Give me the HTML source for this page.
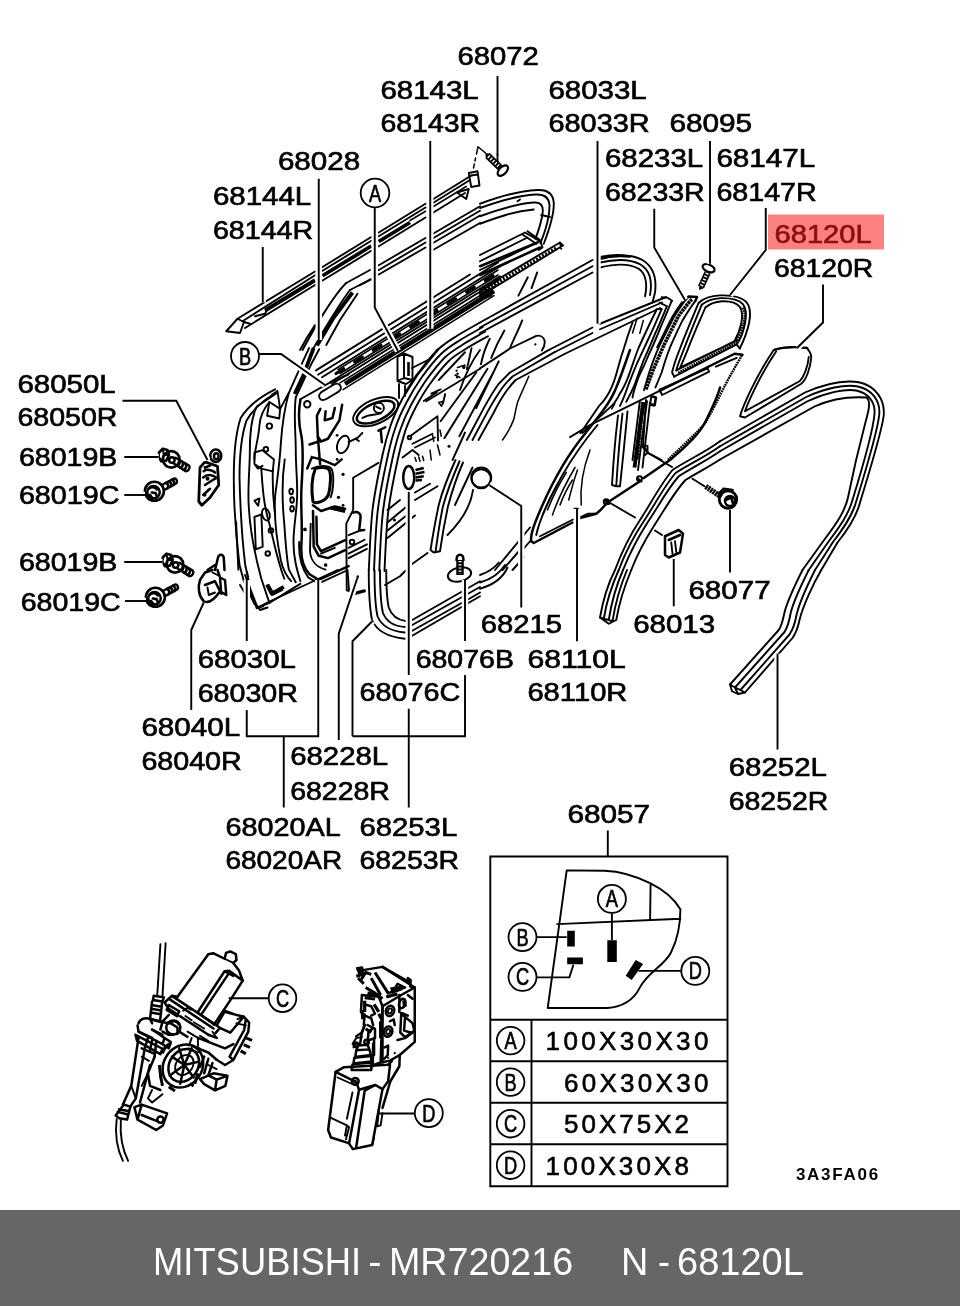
<!DOCTYPE html>
<html><head><meta charset="utf-8"><title>MITSUBISHI - MR720216 N - 68120L</title>
<style>
html,body{margin:0;padding:0;background:#fff;}
body{width:960px;height:1306px;overflow:hidden;position:relative;font-family:"Liberation Sans",sans-serif;}
svg{position:absolute;left:0;top:0;display:block;will-change:transform}
.l{font-family:"Liberation Sans",sans-serif;font-size:25.5px;fill:#000;stroke:#000;stroke-width:.65px}
.t{font-family:"Liberation Sans",sans-serif;font-size:26px;fill:#000;stroke:#000;stroke-width:.6px}
.c{font-family:"Liberation Sans",sans-serif;font-size:24px;fill:#000;stroke:#000;stroke-width:.7px;text-anchor:middle}
.ld{fill:none;stroke:#000;stroke-width:1.9}
.a{fill:none;stroke:#000;stroke-width:1.9;stroke-linejoin:round;stroke-linecap:round}
.a2{fill:none;stroke:#000;stroke-width:2.5;stroke-linejoin:round;stroke-linecap:round}
.a3{fill:none;stroke:#000;stroke-width:3.8;stroke-linejoin:round;stroke-linecap:butt}
.a1{fill:none;stroke:#000;stroke-width:1.5;stroke-linejoin:round;stroke-linecap:round}
.f{fill:#000;stroke:none}
.w{fill:#fff;stroke:#000;stroke-width:1.5;stroke-linejoin:round}
.h{fill:none;stroke:#fff;stroke-width:6.5;stroke-linecap:butt}
g.z path, g.z circle, g.z ellipse{vector-effect:non-scaling-stroke}
#bar{will-change:transform;position:absolute;left:0;top:1210px;width:960px;height:96px;background:#666;}
#bar span{position:absolute;top:26.3px;font-size:39.6px;line-height:50px;color:#fff;white-space:nowrap;transform-origin:0 50%;}
</style></head><body>
<svg width="960" height="1306" viewBox="0 0 960 1306">
<g class="z" transform="translate(130,430) scale(0.125)">
<path class="a2" d="M232 180L262 150L300 160L312 200L290 245L250 250L228 215Z" style="stroke-width:2.6"/>
<circle cx="330" cy="235" r="66" class="a2" style="stroke-width:2.6"/>
<circle cx="335" cy="240" r="22" class="a2"/>
<path class="a2" d="M365 222L472 285M350 268L445 330M472 285C485 300 470 328 445 330" style="stroke-width:2.4"/>
<path class="a2" d="M392 238C405 255 395 280 378 286M418 254C431 271 421 296 404 302M444 270C457 287 447 312 430 318" style="stroke-width:2.6"/>
<path class="a" d="M262 150L270 200L312 200M270 200L250 250"/>
<circle cx="195" cy="490" r="76" class="a2" style="stroke-width:2.6"/>
<circle cx="188" cy="498" r="50" class="a2"/>
<path class="a2" d="M150 470C170 450 200 455 215 475M175 500L205 505L215 530M160 520L180 545" style="stroke-width:2.6"/>
<path class="a2" d="M255 440L352 388M275 480L372 425M352 388C372 385 382 410 372 425" style="stroke-width:2.4"/>
<path class="a2" d="M288 422C305 430 312 452 300 466M312 410C329 418 336 440 324 454M336 397C353 405 360 427 348 441" style="stroke-width:2.6"/>
<ellipse cx="686" cy="206" rx="44" ry="50" class="a2" style="stroke-width:2.6"/>
<ellipse cx="690" cy="210" rx="18" ry="24" class="a2"/>
<path class="a2" d="M560 300L600 255L700 290L710 440L640 540L575 602L550 572Z" style="stroke-width:2.8"/>
<path class="a2" d="M590 330C610 310 660 320 680 340M585 380C620 350 660 360 690 380M600 440C630 420 660 400 690 385M585 520L640 470M600 300L640 285"/>
<circle cx="620" cy="390" r="16" class="f"/><circle cx="598" cy="520" r="14" class="f"/><circle cx="600" cy="300" r="10" class="f"/><circle cx="625" cy="480" r="9" class="f"/>
<g transform="translate(30.0,840)"><path class="a2" d="M232 180L262 150L300 160L312 200L290 245L250 250L228 215Z" style="stroke-width:2.6"/>
<circle cx="330" cy="235" r="66" class="a2" style="stroke-width:2.6"/>
<circle cx="335" cy="240" r="22" class="a2"/>
<path class="a2" d="M365 222L472 285M350 268L445 330M472 285C485 300 470 328 445 330" style="stroke-width:2.4"/>
<path class="a2" d="M392 238C405 255 395 280 378 286M418 254C431 271 421 296 404 302M444 270C457 287 447 312 430 318" style="stroke-width:2.6"/>
<path class="a" d="M262 150L270 200L312 200M270 200L250 250"/></g>
<g transform="translate(8,848)"><circle cx="195" cy="490" r="76" class="a2" style="stroke-width:2.6"/>
<circle cx="188" cy="498" r="50" class="a2"/>
<path class="a2" d="M150 470C170 450 200 455 215 475M175 500L205 505L215 530M160 520L180 545" style="stroke-width:2.6"/>
<path class="a2" d="M255 440L352 388M275 480L372 425M352 388C372 385 382 410 372 425" style="stroke-width:2.4"/>
<path class="a2" d="M288 422C305 430 312 452 300 466M312 410C329 418 336 440 324 454M336 397C353 405 360 427 348 441" style="stroke-width:2.6"/></g>
</g>
<g class="z" transform="translate(220,340) scale(0.2296)">
<!-- left outer edges -->
<path class="a" d="M240 215C180 245 120 290 90 340C70 400 60 500 60 600C60 720 70 860 85 980L105 1055"/>
<path class="a" d="M232 238C185 265 138 310 115 352C95 410 85 500 85 600C88 720 95 860 110 980L125 1050"/>
<path class="a" d="M70 790L80 1000M118 1010L130 1090L160 1168L188 1160M125 1095L150 1150"/>
<path class="a" d="M250 230L160 290C140 330 130 400 130 480C130 560 120 640 125 720C130 820 150 930 180 1040L215 1145L350 1062"/>
<path class="a" d="M160 1168L215 1145M215 270C190 300 175 330 172 370C168 430 150 480 150 520"/>
<!-- pillar features -->
<path class="a" d="M215 270L262 300L258 342L205 330ZM225 240L250 222L262 300M150 490L185 480L235 520L230 572L180 560L150 540ZM150 540L165 560L185 548M150 700L172 690L166 722ZM150 770L180 760L186 900L156 912Z"/>
<circle cx="215" cy="375" r="12" class="a"/><circle cx="200" cy="476" r="10" class="a"/><ellipse cx="200" cy="760" rx="16" ry="27" class="a" transform="rotate(-15 200 760)"/><circle cx="222" cy="830" r="10" class="a"/><circle cx="208" cy="930" r="10" class="a"/>
<ellipse cx="310" cy="660" rx="8" ry="12" class="a"/><ellipse cx="314" cy="697" rx="8" ry="12" class="a"/><ellipse cx="314" cy="735" rx="8" ry="12" class="a"/>
<path class="a3" d="M205 1065L225 1105L278 1075"/>
<!-- vertical wavy -->
<path class="a" d="M300 230C280 300 270 380 265 450C260 540 250 600 240 680C235 760 245 860 265 960C275 1000 290 1030 310 1050"/>
<path class="a" d="M330 250C320 330 330 400 330 480C330 560 340 640 335 700C330 780 320 820 320 880C320 950 335 1000 350 1050"/>
<path class="a2" d="M350 260C340 320 345 380 355 420C365 480 360 560 355 640C350 720 360 800 355 880C350 940 360 990 390 1020L430 1045L560 985"/>
<path class="a" d="M282 520C270 600 270 700 280 800C285 880 290 950 300 1000L330 1055M180 560C185 640 190 720 215 800C235 880 250 960 280 1040"/>
<path class="a" d="M230 572C228 640 232 700 240 760M345 880C342 930 350 985 385 1035L430 1060L550 1005"/>
<!-- top frame part -->
<path class="a" d="M350 258L470 190L560 150M262 300L300 230M300 230L360 95L388 35M330 250L400 100L432 40"/>
<path class="a3" d="M325 235L365 150L385 95L408 35"/>
<path class="a" d="M440 228C430 238 428 250 438 258C446 264 455 262 465 256L515 226C528 218 530 205 522 196C515 188 502 190 492 196Z"/>
<circle cx="380" cy="280" r="14" class="a"/>
<path class="a2" d="M437 300L422 330L426 420L440 442M440 442L470 430L520 350L532 282M460 310L456 350L490 340L500 296"/>
<path class="a2" d="M426 420L436 540M436 440L390 455M400 510L440 520L500 545L530 520M380 560L400 510"/>
<ellipse cx="536" cy="455" rx="24" ry="40" class="a" transform="rotate(22 536 455)"/>
<path class="a" d="M560 445L600 425L620 405M590 430L605 440"/>
<circle cx="510" cy="415" r="6" class="f"/><circle cx="510" cy="520" r="6" class="f"/><circle cx="536" cy="585" r="7" class="f"/><circle cx="516" cy="685" r="7" class="f"/><circle cx="536" cy="720" r="6" class="f"/><circle cx="370" cy="825" r="8" class="f"/><circle cx="460" cy="980" r="8" class="f"/><circle cx="600" cy="1030" r="5" class="f"/>
<circle cx="575" cy="880" r="10" class="a"/>
<!-- openings -->
<path class="a2" d="M415 560C440 552 465 555 475 565C485 580 482 640 472 675C460 700 425 715 405 705C398 660 400 600 415 560Z" style="stroke-width:3"/>
<path class="a" d="M400 560C430 545 470 545 485 560C498 580 495 650 482 685"/>
<path class="a2" d="M405 720L440 745L500 725L545 735M420 770L422 890L440 920L545 872M405 745L408 900L430 940L470 950L545 915" />
<path class="a3" d="M480 730L545 745"/>
<path class="a" d="M440 930L500 905M395 800L392 920C395 960 420 990 460 1000"/>
<!-- handle -->
<ellipse cx="678" cy="312" rx="105" ry="52" class="a" transform="rotate(-24 678 312)"/>
<ellipse cx="678" cy="314" rx="88" ry="38" class="a2" transform="rotate(-24 678 314)"/>
<circle cx="692" cy="296" r="22" class="a"/><path class="a" d="M620 340C650 320 670 330 700 320M680 290L700 300"/>
<path class="a2" d="M700 390L705 445M720 380L690 395"/>
<!-- trim piece 68228 -->
<path class="a" d="M690 535L580 600L580 740L550 800L552 1090L585 1100M600 1035L585 1100L630 1090"/>
<path class="a2" d="M580 752C600 745 615 755 612 775L606 830L628 828"/>
<path class="a" d="M560 930L640 890M560 950L640 910M560 905L630 870M560 850L610 830"/>
</g>
<g class="z" transform="translate(0,0) scale(1)">
<!-- belt rail band (real coords) -->
<path class="a3" style="stroke-width:4.6" d="M345 383.9L494 291.0"/>
<path class="a1" d="M343 389.7L494 295.6M340 382.8L497 285.0"/>
<path class="a" d="M332 384.0L500 279.3M330 382.2L500 276.3M322 377.2L500 266.3M318 374.7L498 262.5M316 370.4L470 274.5"/>
<path class="a2" style="stroke-width:3.2" stroke-dasharray="9 13" d="M336 373.5L498 272.5"/>
<path class="a1" d="M340 373.5L498 275.0M338 369.7L498 270.0"/>
<path class="a" d="M397.5 357L404 353.5L412.5 357V380L406 384L397.5 381ZM404 353.5V378M404 378L412.5 380M404 378L397.5 381"/>
<path class="a3" style="stroke-width:2.6" d="M408.5 362V376"/>
<path class="a" d="M399 384V398M405 386V396M412 368L428 360"/>
</g>
<g class="z" transform="translate(0,0) scale(1)">
<!-- screws in real coords -->
<path d="M487.5 155.5L500 167.5" fill="none" stroke="#000" stroke-width="6.6"/>
<path d="M487.5 155.5L500 167.5" fill="none" stroke="#fff" stroke-width="3.4" stroke-dasharray="1.3 1.9" stroke-dashoffset="-1.2"/>
<ellipse cx="502.8" cy="170.6" rx="6.4" ry="3.6" transform="rotate(-45 502.8 170.6)" fill="#fff" stroke="#000" stroke-width="2.2"/>
<path class="f" d="M485.2 153.2L490 153.5L486 158Z"/>
<path class="a1" d="M485.5 153L478 146.7L476.5 154M475.6 158L475 161M474.3 164L473.5 168"/>
<path d="M701 287L707.6 272.5" fill="none" stroke="#000" stroke-width="6.6"/>
<path d="M701 287L707.6 272.5" fill="none" stroke="#fff" stroke-width="3.4" stroke-dasharray="1.3 1.9" stroke-dashoffset="-1.2"/>
<ellipse cx="708.6" cy="268.2" rx="6.4" ry="3.6" transform="rotate(24 708.6 268.2)" fill="#fff" stroke="#000" stroke-width="2.2"/>
<path class="f" d="M699 290L703.5 288.5L699.5 285Z"/>
<!-- lower clip 68076B -->
<ellipse cx="459.5" cy="574.5" rx="11.8" ry="7" transform="rotate(-12 459.5 574.5)" fill="#fff" stroke="#000" stroke-width="2"/>
<path d="M460 560V575" fill="none" stroke="#000" stroke-width="7.5"/>
<path d="M460 561V574" fill="none" stroke="#fff" stroke-width="3" stroke-dasharray="1.2 2"/>
<path class="a2" d="M456.5 560C456.5 553 463.5 553 463.5 560"/>
</g>
<g class="z" transform="translate(100,940) scale(0.20833)">
<!-- cables -->
<path class="a" d="M290 20L275 262M315 15L300 268"/>
<path class="a2" d="M258 268L306 275L300 295L254 288ZM250 295L240 380L288 392L298 300M248 312L296 320M246 330L294 338M244 348L292 356"/>
<!-- motor cylinder -->
<path class="a2" d="M372 272L520 68L545 64L598 90L605 62L625 55L652 68L655 96L640 110L668 148L685 195L625 290L548 405"/>
<path class="a" d="M520 68L545 64M640 110L598 90"/>
<path class="a2" d="M468 348L598 150L640 172M490 352L615 165M468 348L548 405M598 150L620 148L685 195"/>
<!-- base plate -->
<path class="a2" d="M310 300L345 268L372 272M345 268L560 410L576 422L555 446M310 300L330 330L522 456M330 312L380 342L370 366L320 336Z"/>
<path class="a" d="M400 340L420 325L436 335M410 365L440 385M450 395L500 425M540 440L560 470"/>
<!-- right gearbox -->
<path class="a2" d="M598 345L690 368L716 396L712 440L640 576L600 600L560 575M640 576L622 560L692 432L700 380L690 368M600 340L640 355"/>
<path class="a3" d="M700 470L730 482M690 502L720 516M675 532L700 546" style="stroke-width:3"/>
<path class="a" d="M660 380L680 372M655 400L700 410"/>
<!-- gear -->
<ellipse cx="398" cy="605" rx="92" ry="108" class="a2" transform="rotate(35 398 605)"/>
<ellipse cx="402" cy="602" rx="68" ry="84" class="a2" transform="rotate(35 402 602)"/>
<ellipse cx="405" cy="600" rx="40" ry="52" class="a" transform="rotate(35 405 600)"/>
<path class="a2" d="M405 600L440 520M405 600L470 585M405 600L450 660M405 600L385 690M405 600L335 650M405 600L345 560M405 600L380 520"/>
<path class="a3" d="M290 650L300 700M330 705L360 725M430 690L450 700" style="stroke-width:3"/>
<!-- left body -->
<path class="a2" d="M185 400C190 380 215 370 240 378L250 400M180 410L185 440L300 500L310 470L250 430M170 455L300 522L290 548L178 484ZM300 500L330 520L340 490L310 470"/>
<circle cx="352" cy="420" r="34" class="a2"/><path class="a2" d="M330 400C345 385 370 388 378 405"/>
<path class="a2" d="M290 392L330 400M300 440L330 455L350 455"/>
<path class="a" d="M420 440L470 470L470 520M480 460L520 485M440 470L430 500"/>
<path class="a2" d="M470 520L520 540L560 575M500 560L480 610M520 570L500 640M540 590L520 650"/>
<!-- arm -->
<path class="a2" d="M185 470L150 700L110 790M215 520L172 760L145 800M240 600L192 780M262 560L230 640L240 700L290 720"/>
<path class="a" d="M200 560L235 580M250 720L230 760L250 780L300 740"/>
<!-- lower bracket -->
<path class="a2" d="M165 802L200 790L322 832L302 890L270 912L180 862ZM200 840L280 872M180 862L200 790"/>
<circle cx="290" cy="862" r="15" class="a2"/>
<!-- lower cable -->
<path class="a2" d="M75 842L115 790L146 800L130 862L92 856ZM85 825L135 838M92 812L140 822"/>
<path class="a" d="M80 860C70 940 80 1000 110 1060M100 865C95 940 105 1000 135 1060"/>
<!-- right foot -->
<path class="a2" d="M480 668L545 640L612 652L602 700L552 722L500 692ZM552 722L560 670L612 652M560 670L520 650"/>
<!-- extra density -->
<path class="a2" d="M335 285L545 425M240 378L300 392L330 360M300 392L290 430M250 430L300 455M185 440L250 470M470 470L600 520L640 500M520 455L560 470M560 410L600 340M575 422L625 445L690 368"/>
<path class="a3" d="M300 545C305 520 320 505 340 495M285 600L292 660M455 690L470 640" style="stroke-width:3"/>
<path class="a2" d="M230 470L215 520M250 480L240 530M270 490L262 560M200 520L260 545M340 400L372 420L372 450M380 440L420 465"/>
<path class="a" d="M425 520L470 540M440 505L480 522M520 600L560 620M150 700L172 760M230 640L200 700"/>
</g>
<g class="z" transform="translate(300,950) scale(0.1875)">
<!-- actuator box -->
<path class="a2" d="M190 650L150 960L165 1000L260 1030L282 1062L385 1040L440 742L402 720L315 745L300 705Z"/>
<path class="a2" d="M190 650L235 625L470 612L490 592M315 745L262 1030M345 750L300 1050M402 720L345 750M440 742L470 700L480 612"/>
<path class="a" d="M200 680L290 720M165 895L250 935L262 945L245 1010M250 935L240 990M280 760L250 900M385 1040L395 1000M420 860L412 940L430 935L440 870"/>
<circle cx="295" cy="700" r="18" class="a2"/><circle cx="295" cy="700" r="8" class="f"/>
<!-- rod boot -->
<path class="a2" d="M300 535L370 530L378 560L295 570ZM290 575L378 565L382 595L285 605ZM280 610L382 600L380 640L275 640ZM300 535L310 510L360 505L370 530"/>
<path class="a2" d="M320 505L330 440L345 400M360 505L365 440L385 420"/>
<path class="a" d="M280 500L300 470L330 465M285 520L300 500"/>
<circle cx="298" cy="505" r="12" class="a2"/><circle cx="355" cy="490" r="12" class="a2"/>
<!-- latch body -->
<path class="a2" d="M320 110L440 90L612 200L612 490L532 560L530 620L482 700L440 842"/>
<path class="a2" d="M330 240L325 330L345 345L340 400M330 240L420 250L440 300L430 600L400 610M440 300L540 240L612 200M430 600L480 590L532 560M390 500L388 620"/>
<path class="a2" d="M540 340L600 390L610 430L560 465L535 440ZM560 360L555 430L590 440"/>
<path class="a3" d="M300 100L330 95L335 130L300 140M310 150L340 180M325 160L350 120L380 130M350 200L400 230L440 260M380 150L430 240M400 120L470 230" style="stroke-width:3"/>
<path class="a2" d="M440 90L580 170L575 150L590 160L588 195L612 200M470 230L560 200M500 215L520 180L560 200"/>
<path class="f" d="M480 200L540 190L545 215L490 235Z"/>
<ellipse cx="480" cy="325" rx="22" ry="28" class="a2" transform="rotate(20 480 325)"/><ellipse cx="480" cy="325" rx="10" ry="14" class="a" transform="rotate(20 480 325)"/>
<ellipse cx="470" cy="435" rx="22" ry="28" class="a2" transform="rotate(20 470 435)"/><ellipse cx="470" cy="435" rx="10" ry="14" class="a" transform="rotate(20 470 435)"/>
<ellipse cx="545" cy="285" rx="16" ry="26" class="a2" transform="rotate(20 545 285)"/>
<path class="a2" d="M480 380L500 370L505 400M450 520L470 510L468 560L450 580M345 290L380 300L400 340L380 350M360 400L400 420L400 470L370 480"/>
<path class="a3" d="M330 320L335 370M345 255L400 262M420 340L440 380" style="stroke-width:3"/>
<circle cx="505" cy="550" r="6" class="f"/><circle cx="470" cy="575" r="6" class="f"/>
<!-- extra density -->
<path class="a3" d="M360 230L430 245M345 270L345 330M395 290L420 330M460 250L520 235M430 380L430 470M350 420L380 440" style="stroke-width:3.2"/>
<path class="a2" d="M440 300L440 600M530 240L530 330L575 350M575 240L600 260M520 480L560 470L600 440M335 345L380 365L390 400M300 460L330 440L345 400M395 470L395 560"/>
<path class="f" d="M545 270L565 262L570 300L550 310ZM300 100L320 92L330 125L312 135Z"/>
</g>
<g class="z" transform="translate(570,260) scale(0.20833)">
<!-- glass 68033 corner + rear edge lines -->
<path class="a" d="M440 178L470 182L490 196M430 205L465 222M415 236L440 236"/>
<path class="a" d="M488 196C470 240 450 290 440 310C420 360 395 420 380 450C360 500 340 540 330 560C315 600 305 630 300 660"/>
<path class="a" d="M465 222C445 270 425 320 410 350C390 400 365 455 350 490C335 530 320 570 310 600C295 635 282 660 270 680"/>
<path class="a" d="M440 236C420 280 400 330 385 360C362 410 338 460 320 500C305 535 292 570 280 600C268 635 255 670 240 700"/>
<path class="a" d="M415 240C385 300 355 365 330 420C310 470 295 520 280 560C268 590 255 620 240 640C228 665 215 685 200 700L60 830"/>
<path class="a" d="M300 300C285 340 270 385 260 420C248 455 238 490 230 520C222 550 212 585 200 610C185 645 165 675 140 700L50 832"/>
<path class="a1" d="M322 280L300 350M352 290L335 352M215 690L200 715"/>
<!-- division bar 68233 -->
<path class="a3" d="M585 188C560 215 535 250 520 270C490 330 465 380 450 410C430 455 412 500 400 525C385 565 372 600 365 622" stroke-dasharray="2.6 .6" style="stroke-width:3.6"/>
<path class="a" d="M555 190C530 225 510 255 498 275C470 330 445 380 430 410C410 455 392 505 380 540L355 625"/>
<path class="a" d="M602 196C580 225 555 265 540 290C515 340 495 385 480 420C462 465 450 505 440 540L410 612"/>
<path class="a2" d="M555 190L570 175L610 178L602 196"/>
<path class="a" d="M540 200C515 235 495 265 482 290C455 345 432 390 418 420"/>
<!-- quarter ws 68147 -->
<path class="a" d="M618 205C640 185 680 172 720 170C770 168 820 175 845 200C868 225 868 260 860 300C852 340 835 385 815 425"/>
<path class="a" d="M632 215C655 195 690 185 725 183C770 182 810 190 830 212C848 235 848 265 840 305C832 345 815 385 800 405"/>
<path class="a" d="M650 228C670 210 700 200 730 198C768 197 800 205 815 225C830 245 828 275 822 305C815 340 800 372 788 392"/>
<path class="a" d="M618 205C595 260 560 340 530 420C510 470 495 515 490 540L500 560M632 215C612 265 578 345 548 425C530 470 515 510 510 530M650 228C630 275 595 350 565 430C550 470 535 500 530 515"/>
<path class="a" d="M500 560L800 405L815 425M510 530L800 385M530 515L788 392"/>
<path class="a3" d="M520 542L795 398C812 365 828 330 835 300C842 270 840 245 828 225" stroke-dasharray="1.8 .7" style="stroke-width:2.6"/>
<!-- long diagonal (68110 top edge) -->
<path class="a2" d="M828 455L790 450L430 628"/>
<path class="a" d="M430 628L100 790L0 850M800 470L700 512"/>
<path class="a" d="M430 622L660 520L668 536L442 648Z"/>
<path class="a3" d="M825 458C800 500 760 570 740 610C710 670 680 730 650 780C635 800 615 820 600 835L470 960" stroke-dasharray="1.8 .7" style="stroke-width:2.4"/>
<!-- lower division bar -->
<path class="a3" d="M350 682L335 820L320 960" stroke-dasharray="2.6 .6"/>
<path class="a" d="M335 680L300 960M365 672L350 900L372 925L440 960M350 890L372 892L372 925M390 655L410 660L405 700L385 695Z"/>
</g>
<g class="z" transform="translate(0,350) scale(0.25)">
<!-- lower hinge top -->
<path class="a2" d="M860 880L872 830C876 815 892 815 895 830L898 880M830 880L860 860"/>
</g>
<g class="z" transform="translate(0,570) scale(0.25)">
<!-- hinge 68040 -->
<path class="a2" d="M800 40C790 70 795 105 815 125C835 135 860 115 880 85L905 100L900 40L880 30L870 0M800 40L820 10L850 0M820 60L860 45L880 85M880 30L885 95"/>
<path class="a" d="M830 70L835 100L860 90M850 10L870 20"/>
</g>
<g class="z" transform="translate(240,130) scale(0.25)">
<!-- strip 68144 -->
<path class="a" d="M-10 755L300 566M330 548L525 428M555 410L742 295M772 277L925 182"/>
<path class="a" d="M10 765L300 581M330 563L525 443M555 425L742 310M772 292L915 203"/>
<path class="a3" d="M100 722L300 601M330 583L525 464M555 446L680 370"/>
<path class="a" d="M20 792L300 620M330 602L525 483M555 465L742 350M772 331L900 252"/>
<path class="a" d="M60 745L100 735L110 715M-10 755L-55 805L0 812L16 768Z M16 768L40 775"/>
<path class="a1" d="M680 362L742 325M772 307L905 226"/>
<!-- end clip -->
<path class="a" d="M915 172L950 165L958 222L925 228ZM925 182L950 178M868 250L915 236L905 276Z"/>

<!-- sash top lines -->
<path class="a" d="M425 612L520 560M555 541L742 432M772 415L960 305"/>
<path class="a" d="M440 640L522 597M555 578L742 470M772 452L960 342"/>
<path class="a" d="M478 622L524 598M555 560L742 450M772 433L960 323"/>
<path class="a" d="M772 480L960 372"/>
<!-- pillar -->
<path class="a" d="M425 612C395 640 345 715 300 790L250 880M440 640C410 680 360 760 330 810L290 880M300 780L268 830L240 880"/>
<path class="a3" d="M450 650L375 750L308 862"/>
<path class="a" d="M470 655L400 760L345 860"/>
</g>
<g class="z" transform="translate(240,350) scale(0.25)">
<!-- 68253 weatherstrip left run -->
<path class="a" d="M960 -110C945 -101 898 -76 870 -58C842 -40 817 -26 790 0C763 26 732 67 708 100C684 133 664 167 647 200C630 233 616 263 603 300C590 337 582 363 570 420C558 477 539 563 530 640C521 717 518 840 515 880"/>
<path class="a" d="M971 -92C956 -83 909 -58 881 -40C854 -23 831 -10 805 15C779 40 748 80 725 112C702 145 683 177 666 210C649 242 635 271 623 307C610 343 603 368 591 424C579 480 560 566 551 642C542 719 538 842 536 881"/>
<path class="a" d="M981 -74C966 -65 920 -40 893 -23C866 -5 844 6 819 30C794 55 765 93 742 124C720 156 701 188 684 220C668 251 655 279 643 314C630 349 623 374 611 429C599 484 581 569 572 645C563 721 559 843 557 883"/>
<path class="a" d="M992 -55C977 -47 930 -22 904 -5C878 12 858 21 834 45C810 69 781 106 759 137C737 167 719 199 703 229C687 260 674 287 662 321C651 355 643 379 632 433C620 488 602 572 593 647C584 723 580 845 578 884"/>
<path class="a2" d="M790 0L708 100L660 175" style="stroke-width:2.6"/>
<!-- upper trim lines -->
<path class="a" d="M960 75L745 205"/>
<path class="a" d="M680 345L790 265L792 362M690 375L770 335M700 390L780 350M650 430L690 400L715 420"/>
<path class="a1" d="M820 175L812 215M795 210L815 205M870 70L900 60M860 100L880 110M700 430L705 445M715 428L720 445M730 425L735 442"/>
<circle cx="678" cy="350" r="7" class="a"/><circle cx="836" cy="385" r="6" class="f"/><circle cx="895" cy="70" r="6" class="f"/><circle cx="870" cy="95" r="5" class="f"/>
<path class="a1" d="M770 340L775 365M800 320L805 345M760 400L765 440M790 380L800 420"/>
<!-- hatch on trim -->
<path class="a" d="M930 470L860 620M900 330L850 440"/>
<path class="a" d="M590 640L640 600M590 690L662 630M590 722L662 665M590 752L700 662M700 600L790 545M700 570L760 535M680 862L750 812"/>
<circle cx="618" cy="680" r="6" class="f"/>
<!-- clip 68076B -->
<ellipse cx="675" cy="510" rx="22" ry="46" class="a2"/>
<path class="a3" d="M702 480L735 472M702 495L738 488M702 510L735 505M702 522L728 520" style="stroke-width:2.5"/>
<!-- run channel -->
<path class="a" d="M862 440C835 500 810 560 795 620C780 690 770 750 762 800L775 810L800 805C808 750 818 690 832 625C848 565 868 505 892 450"/>
<path class="a" d="M878 445C852 505 828 565 812 625C798 690 790 750 782 808"/>
<path class="a" d="M932 560C925 610 900 670 830 740"/>
<circle cx="965" cy="510" r="40" class="a"/>
<!-- lower clip -->

<!-- door top frame to B -->
<path class="a" d="M960 0C930 40 900 100 880 160"/>
</g>
<g class="z" transform="translate(240,570) scale(0.25)">
<!-- 68253 bottom corner -->
<path class="a" d="M515 0C515 80 518 150 528 200C545 240 590 268 660 275"/>
<path class="a" d="M538 0C538 70 540 140 550 185C565 222 600 245 660 250"/>
<path class="a" d="M560 0C560 65 562 130 572 172C585 205 615 225 660 228"/>
<path class="a" d="M585 0C585 60 586 110 595 150C605 180 630 200 665 205"/>
<!-- sill lines -->
<path class="a" d="M680 205L960 45M680 225L960 68M680 248L890 130M680 268L960 105M900 125L960 90"/>
<!-- clip -->

<!-- trim corner -->
<path class="a" d="M430 0L436 80L460 96L500 85M580 60L640 25L665 0"/>
<circle cx="470" cy="30" r="5" class="f"/>
<!-- door bottom corner -->
<path class="a" d="M20 20L70 150L110 130L390 0M40 100L80 160L110 150M0 60L30 110"/>
<path class="a3" d="M110 60L130 95L170 75"/>
</g>
<g class="z" transform="translate(480,130) scale(0.25)">
<!-- sash top corner -->
<path class="a" d="M0 295C80 265 160 243 230 240C270 238 292 255 295 290C297 330 280 390 255 455"/>
<path class="a" d="M0 312C80 283 150 262 222 258C258 256 276 272 278 300C279 340 265 395 242 452"/>
<path class="a" d="M0 345C80 315 150 295 215 290C245 288 255 305 250 335C245 370 235 400 222 435"/>
<path class="a" d="M0 375C80 345 140 325 215 318"/>
<path class="a" d="M150 285L160 278M245 340L280 348"/>
<!-- channel -->
<path class="a" d="M0 500L180 410L240 445L0 560M0 525L190 430M170 418L225 455M190 405L240 440L250 470L235 480"/>
<path class="a2" d="M0 545L230 450M0 580L240 470"/>
<path class="a" d="M0 640L320 450L332 462L0 665M320 450L325 475"/>
<path class="a3" d="M20 640L310 470" stroke-dasharray="2 1.5"/>
<path class="a2" d="M0 655L40 635L45 660L0 680"/>
<!-- weatherstrip top run -->
<path class="a" d="M0 770L450 520M0 790L450 545M0 812L450 570"/>
<path class="a" d="M480 508C540 495 610 498 650 520C690 545 708 590 700 650L690 690"/>
<path class="a2" d="M480 515C510 506 560 502 600 506"/>
<path class="a" d="M480 550C540 535 600 535 635 555C665 575 670 620 660 665"/>
<path class="a" d="M480 530C545 515 605 518 642 538C678 560 690 605 680 660"/>
<!-- glass/trim top edge -->
<path class="a" d="M275 880L450 790M480 775L745 668M300 888L450 812M480 797L728 690"/>
<path class="a" d="M340 895L720 712"/>
</g>
<g class="z" transform="translate(480,350) scale(0.25)">
<!-- 68252 front run -->
<path class="a" d="M540 880C570 800 600 740 640 680C680 620 720 540 770 480C830 440 900 410 960 365"/>
<path class="a" d="M555 880C585 800 618 740 655 685C695 625 735 548 782 492C840 455 905 425 960 385"/>
<path class="a" d="M572 880C602 805 635 745 670 690C710 632 748 558 795 505C850 470 910 440 960 405"/>
<path class="a" d="M605 880C632 810 660 760 695 705C735 645 775 570 822 520C870 490 920 465 960 438"/>
<!-- door glass 68110 -->
<path class="a2" d="M205 765C200 740 215 700 250 620C290 530 350 420 420 335C470 270 520 215 545 150C570 90 585 40 600 0"/>
<path class="a" d="M225 740C235 690 280 590 330 500C370 430 420 360 470 300"/>
<path class="a2" d="M205 765L215 772L370 690M400 672L465 655C485 640 495 625 510 610L640 525M655 512L760 440C820 390 880 330 900 290C930 230 950 190 960 150"/>
<path class="a" d="M240 745L372 678"/>
<!-- glass reflections -->
<path class="a1" d="M270 640C290 590 320 530 345 490M290 660C310 600 345 530 380 470M320 620C335 580 350 550 370 520M250 660C265 620 290 570 310 535"/>
<path class="a1" d="M405 620C400 560 410 480 440 400M355 600C365 560 375 520 390 480"/>
<!-- division bar -->
<path class="a" d="M528 540C535 420 545 320 552 262M545 545C552 430 562 320 570 255M560 545L575 400L590 246M528 540L545 545L560 545"/>
<path class="a3" d="M618 470L640 300L655 210"/>
<path class="a" d="M632 480L655 300L668 205M650 470L665 340L680 210M655 385L672 410L660 420M690 185L705 190L700 220L680 215"/>
<!-- grommet 68215 -->
<circle cx="5" cy="515" r="38" class="a"/>
<!-- clip 68013 -->
<path class="a2" d="M740 745L795 720L812 735L800 810L755 830L740 820ZM755 760L800 740"/>
<path class="a" d="M765 770L770 815M780 765L785 808"/>
<!-- bolt 68077 threads -->
<path class="a3" style="stroke-width:5.5" stroke-dasharray="2.2 .7" d="M903 546L966 588"/>
<!-- dash-dot -->
<path class="a" d="M512 607L620 670M700 722L728 740M672 412L768 468M850 515L898 545"/>
<path class="a2" d="M500 600L515 615M630 515L645 525"/>
<circle cx="505" cy="607" r="10" class="a"/><circle cx="638" cy="515" r="10" class="a"/>
<path class="a" d="M395 672L430 655L465 655M378 635L392 635"/>
<!-- sill ends bottom-left -->
<path class="a" d="M60 880L200 710M90 880L160 800M170 800L200 765M130 880L175 830"/>
</g>
<g class="z" transform="translate(480,570) scale(0.25)">
<path class="a" d="M540 0C515 50 490 130 480 190L515 215L545 200C555 140 580 60 605 0"/>
<path class="a" d="M555 0C530 55 505 135 495 195M572 0C548 55 525 135 515 200M588 0C565 55 540 140 530 205M480 190L495 195L515 200L530 205"/>
<!-- 68253 bottom bits at top-left -->
<path class="a" d="M0 20C30 10 55 -5 75 -30M0 50C35 40 75 20 100 -20M0 75C45 62 90 35 110 -10"/>
</g>
<g class="z" transform="translate(720,130) scale(0.25)">
<path class="a" d="M215 880C250 868 300 865 350 872"/>
</g>
<g class="z" transform="translate(720,350) scale(0.25)">
<!-- 68252 weatherstrip -->
<path class="a" d="M0 365L340 170C420 135 500 118 560 130C620 145 660 195 655 260C650 310 600 480 560 610C545 670 510 720 470 770L405 880"/>
<path class="a" d="M0 385L345 188C420 153 500 136 552 146C605 158 642 200 637 258C632 310 585 475 545 605C530 662 495 712 452 768L380 880"/>
<path class="a" d="M0 405L350 205C425 170 500 155 545 162C590 172 622 205 618 255C614 308 570 470 530 600C515 655 480 705 435 765L355 880"/>
<path class="a" d="M0 438L378 226C440 198 510 185 585 190C600 200 598 225 592 250C580 300 550 400 512 590C500 645 465 695 420 755L330 880"/>
<!-- quarter glass -->
<path class="a" d="M80 265C90 230 140 110 215 0M80 265L100 270L325 135C345 120 362 70 365 30C365 10 355 0 345 -10"/>
<path class="a" d="M100 245C110 215 160 100 225 5M100 245L318 125C335 110 352 65 355 28"/>
<path class="a" d="M215 0C250 -12 310 -12 345 -8"/>
<!-- quarter ws corner -->
<!-- bolt 68077 head -->
<circle cx="32" cy="598" r="35" class="a2" style="stroke-width:2.8"/>
<circle cx="40" cy="604" r="20" class="a2"/>
<path class="a2" d="M-5 575L15 555L50 560M22 600L45 590L52 615" style="stroke-width:2.6"/>
</g>
<g class="z" transform="translate(720,570) scale(0.25)">
<path class="a" d="M330 0C300 60 270 120 258 170C250 210 245 225 235 240L40 458L48 485L72 496L100 490L290 272C305 250 312 230 318 200C330 150 370 60 405 0"/>
<path class="a" d="M355 0C325 60 292 130 282 175C275 215 268 232 258 248L60 470"/>
<path class="a" d="M380 0C350 60 315 135 305 185C298 222 290 240 278 258L82 480"/>
<path class="a" d="M40 458L60 470L82 480L100 490M60 470L72 496"/>
</g>
<g class="z" transform="translate(420,260) scale(0.1875)">
<!-- glass 68033 top edge left end + front edge -->
<path class="a" d="M690 478L480 600C455 625 435 645 420 660C390 700 365 745 340 790L250 960"/>
<path class="a" d="M720 490L495 620C472 642 455 660 440 680C412 720 385 765 360 810L280 960"/>
<path class="a" d="M773 500L510 640C490 660 475 680 460 700C432 740 410 780 390 820L312 960"/>
<path class="a1" d="M580 620C560 670 535 720 520 760C510 800 505 830 500 850C485 890 465 925 440 960"/>
<!-- long thin line + blob -->
<path class="a" d="M320 578L480 472L620 405C640 400 658 410 664 428C668 448 660 468 650 482"/>
<path class="a" d="M20 752L90 705M60 712L110 690"/>
<circle cx="615" cy="450" r="6" class="f"/>
<!-- hatch marks -->
<path class="a" d="M525 190L575 92M595 150L625 66M480 470C500 420 525 375 545 322M380 522C400 470 425 420 450 376M325 556C335 505 352 460 372 420M250 582L275 470"/>
<path class="a" d="M100 640L240 492M110 860L300 600M130 950L360 580M210 940L400 582M300 790L420 540"/>
<circle cx="235" cy="570" r="8" class="f"/><circle cx="195" cy="590" r="6" class="f"/><circle cx="197" cy="626" r="6" class="f"/>
<path class="a1" d="M100 760L115 780L135 720"/>
</g>
<path class="h" d="M497.5 76V155"/>
<path class="h" d="M430.25 141V328.75"/>
<path class="h" d="M597.5 141V323.75"/>
<path class="h" d="M710 141V263.75"/>
<path class="h" d="M318.75 178.75V340"/>
<path class="h" d="M654.25 208.75V247.5L685 300"/>
<path class="h" d="M765.75 208V250L730 295"/>
<path class="h" d="M262.75 247V302.5"/>
<path class="h" d="M823 284.5V322.5L797.5 347.5"/>
<path class="h" d="M374.75 207.5V307.5L398 351"/>
<path class="h" d="M259 354H281L325 385"/>
<path class="h" d="M122.5 400.75H176.25L207.5 460"/>
<path class="h" d="M124.25 457H158.75"/>
<path class="h" d="M124.25 495H145"/>
<path class="h" d="M124.25 562H162.5"/>
<path class="h" d="M125 601H146"/>
<path class="h" d="M191.25 710V630L203.75 602.5"/>
<path class="h" d="M246.75 580V641M246.75 710V736.25H318.25V580M283.75 736.25V807.5"/>
<path class="h" d="M338.75 740V633.75L357.5 577.5"/>
<path class="h" d="M352.5 736.25V641.25L372.5 621M352.5 736.25H465V675M465 641V580M408.75 708.75V807.5"/>
<path class="h" d="M408.75 492V675"/>
<path class="h" d="M521.25 607.5V506L489 485"/>
<path class="h" d="M577 641.25V509"/>
<path class="h" d="M673.75 606.25V559"/>
<path class="h" d="M730 572.5V510"/>
<path class="h" d="M777.5 653.75V749.5"/>
<path class="h" d="M607.8 830.5V856.5"/>
<path class="ld" d="M497.5 76V155"/>
<path class="ld" d="M430.25 141V328.75"/>
<path class="ld" d="M597.5 141V323.75"/>
<path class="ld" d="M710 141V263.75"/>
<path class="ld" d="M318.75 178.75V340"/>
<path class="ld" d="M654.25 208.75V247.5L685 300"/>
<path class="ld" d="M765.75 208V250L730 295"/>
<path class="ld" d="M262.75 247V302.5"/>
<path class="ld" d="M823 284.5V322.5L797.5 347.5"/>
<path class="ld" d="M374.75 207.5V307.5L398 351"/>
<path class="ld" d="M259 354H281L325 385"/>
<path class="ld" d="M122.5 400.75H176.25L207.5 460"/>
<path class="ld" d="M124.25 457H158.75"/>
<path class="ld" d="M124.25 495H145"/>
<path class="ld" d="M124.25 562H162.5"/>
<path class="ld" d="M125 601H146"/>
<path class="ld" d="M191.25 710V630L203.75 602.5"/>
<path class="ld" d="M246.75 580V641M246.75 710V736.25H318.25V580M283.75 736.25V807.5"/>
<path class="ld" d="M338.75 740V633.75L357.5 577.5"/>
<path class="ld" d="M352.5 736.25V641.25L372.5 621M352.5 736.25H465V675M465 641V580M408.75 708.75V807.5"/>
<path class="ld" d="M408.75 492V675"/>
<path class="ld" d="M521.25 607.5V506L489 485"/>
<path class="ld" d="M577 641.25V509"/>
<path class="ld" d="M673.75 606.25V559"/>
<path class="ld" d="M730 572.5V510"/>
<path class="ld" d="M777.5 653.75V749.5" stroke-width="2.4"/>
<path class="ld" d="M607.8 830.5V856.5"/>
<circle cx="375" cy="193" r="14.3" fill="#fff" stroke="#000" stroke-width="1.8"/>
<text class="c" transform="translate(375,201.5) scale(.76,1)">A</text>
<circle cx="245" cy="356" r="14" fill="#fff" stroke="#000" stroke-width="1.8"/>
<text class="c" transform="translate(245,364.5) scale(.76,1)">B</text>
<circle cx="282.5" cy="998.25" r="13.8" fill="#fff" stroke="#000" stroke-width="1.8"/>
<text class="c" transform="translate(282.5,1006.75) scale(.76,1)">C</text>
<circle cx="428.8" cy="1113.1" r="14" fill="#fff" stroke="#000" stroke-width="1.8"/>
<text class="c" transform="translate(428.8,1121.6) scale(.76,1)">D</text>
<path class="ld" d="M228.75 998.25H268.75M378.75 1113.5H414.75M497.5 154V162"/>
<path class="ld" stroke-width="2" d="M490.3 856.5H727.5V1186.3H490.3ZM490.3 1019.8H727.5M490.3 1061.2H727.5M490.3 1102.75H727.5M490.3 1144.3H727.5M531.5 1019.8V1186.3"/>
<circle cx="510.6" cy="1040.6" r="13.8" fill="#fff" stroke="#000" stroke-width="1.8"/>
<text class="c" transform="translate(510.6,1049.1) scale(.76,1)">A</text>
<text class="t" x="545.6" y="1050.2" textLength="162.8" lengthAdjust="spacing">100X30X30</text>
<circle cx="510.6" cy="1082.1" r="13.8" fill="#fff" stroke="#000" stroke-width="1.8"/>
<text class="c" transform="translate(510.6,1090.6) scale(.76,1)">B</text>
<text class="t" x="564" y="1091.7" textLength="144.4" lengthAdjust="spacing">60X30X30</text>
<circle cx="510.6" cy="1123.7" r="13.8" fill="#fff" stroke="#000" stroke-width="1.8"/>
<text class="c" transform="translate(510.6,1132.2) scale(.76,1)">C</text>
<text class="t" x="564" y="1133.3" textLength="125" lengthAdjust="spacing">50X75X2</text>
<circle cx="510.6" cy="1165.2" r="13.8" fill="#fff" stroke="#000" stroke-width="1.8"/>
<text class="c" transform="translate(510.6,1173.7) scale(.76,1)">D</text>
<text class="t" x="545.6" y="1174.8" textLength="143.4" lengthAdjust="spacing">100X30X8</text>
<text x="795.9" y="1179.75" textLength="82.2" lengthAdjust="spacing" style="font-family:'Liberation Sans',sans-serif;font-weight:bold;font-size:17px">3A3FA06</text>
<path class="a" d="M566.7 870.4L547.7 1008.0L607.3 1008.0C626.3 1006.7 635.7 995.9 639.8 987.7C647.9 971.5 664.2 966.1 671.0 952.5C677.7 939.0 680.4 925.4 680.4 909.2C672.3 895.6 661.5 888.9 650.6 883.4C634.4 875.3 620.8 871.3 604.6 870.7ZM557.2 924.1L680.4 918.7M650.6 883.4L650.1 920.0"/>
<path class="ld" d="M611.9 913.2L611.9 940.3" stroke-width="2.4"/>
<path class="ld" d="M536.9 937.1L566.7 937.1M536.9 977.4L569.4 977.4L573.4 964.7M681.0 970.9L638.5 970.9"/>
<path class="f" d="M607.3 940.3L616.8 940.3L616.8 962.0L607.3 962.0ZM567.2 930.8L574.8 930.8L574.8 946.6L567.2 946.6ZM567.2 957.4L582.9 957.4L582.9 964.2L567.2 964.2ZM635.7 960.1L643.1 963.9L631.7 980.1L625.7 975.8Z"/>
<circle cx="611.9" cy="898.9" r="14" fill="#fff" stroke="#000" stroke-width="1.8"/>
<text class="c" transform="translate(611.9,907.4) scale(.76,1)">A</text>
<circle cx="522.5" cy="937.1" r="14" fill="#fff" stroke="#000" stroke-width="1.8"/>
<text class="c" transform="translate(522.5,945.6) scale(.76,1)">B</text>
<circle cx="522.5" cy="976.9" r="14" fill="#fff" stroke="#000" stroke-width="1.8"/>
<text class="c" transform="translate(522.5,985.4) scale(.76,1)">C</text>
<circle cx="695.3" cy="970.9" r="14" fill="#fff" stroke="#000" stroke-width="1.8"/>
<text class="c" transform="translate(695.3,979.4) scale(.76,1)">D</text>
<rect x="768" y="214.5" width="116" height="35" fill="#fb8080"/>
<text class="l" x="774.5" y="243" textLength="97.25" lengthAdjust="spacingAndGlyphs" style="fill:#8a1010;stroke:#8a1010">68120L</text>
<text class="l" x="457.4" y="64.5" textLength="81.3" lengthAdjust="spacingAndGlyphs">68072</text>
<text class="l" x="380.4" y="98.5" textLength="98.3" lengthAdjust="spacingAndGlyphs">68143L</text>
<text class="l" x="380.4" y="132" textLength="99.8" lengthAdjust="spacingAndGlyphs">68143R</text>
<text class="l" x="548.4" y="98.5" textLength="98.3" lengthAdjust="spacingAndGlyphs">68033L</text>
<text class="l" x="548.4" y="132" textLength="101.3" lengthAdjust="spacingAndGlyphs">68033R</text>
<text class="l" x="669.4" y="132" textLength="82.8" lengthAdjust="spacingAndGlyphs">68095</text>
<text class="l" x="277.9" y="170" textLength="82.3" lengthAdjust="spacingAndGlyphs">68028</text>
<text class="l" x="604.9" y="167" textLength="98.3" lengthAdjust="spacingAndGlyphs">68233L</text>
<text class="l" x="604.9" y="200.5" textLength="99.8" lengthAdjust="spacingAndGlyphs">68233R</text>
<text class="l" x="716.4" y="167" textLength="98.8" lengthAdjust="spacingAndGlyphs">68147L</text>
<text class="l" x="716.4" y="200.5" textLength="100.3" lengthAdjust="spacingAndGlyphs">68147R</text>
<text class="l" x="212.9" y="205" textLength="98.3" lengthAdjust="spacingAndGlyphs">68144L</text>
<text class="l" x="212.9" y="238.75" textLength="100.3" lengthAdjust="spacingAndGlyphs">68144R</text>
<text class="l" x="773.9" y="277" textLength="99.3" lengthAdjust="spacingAndGlyphs">68120R</text>
<text class="l" x="17.4" y="392.5" textLength="98.3" lengthAdjust="spacingAndGlyphs">68050L</text>
<text class="l" x="17.4" y="426.25" textLength="100.05" lengthAdjust="spacingAndGlyphs">68050R</text>
<text class="l" x="18.9" y="465.5" textLength="98.55" lengthAdjust="spacingAndGlyphs">68019B</text>
<text class="l" x="18.9" y="503.75" textLength="100.55" lengthAdjust="spacingAndGlyphs">68019C</text>
<text class="l" x="18.9" y="570.5" textLength="98.55" lengthAdjust="spacingAndGlyphs">68019B</text>
<text class="l" x="20.65" y="610.5" textLength="100.05" lengthAdjust="spacingAndGlyphs">68019C</text>
<text class="l" x="197.65" y="668" textLength="98.3" lengthAdjust="spacingAndGlyphs">68030L</text>
<text class="l" x="197.65" y="701.75" textLength="100.3" lengthAdjust="spacingAndGlyphs">68030R</text>
<text class="l" x="141.4" y="736.25" textLength="98.8" lengthAdjust="spacingAndGlyphs">68040L</text>
<text class="l" x="141.4" y="770" textLength="100.3" lengthAdjust="spacingAndGlyphs">68040R</text>
<text class="l" x="290.15" y="765" textLength="98.05" lengthAdjust="spacingAndGlyphs">68228L</text>
<text class="l" x="290.15" y="799.5" textLength="99.8" lengthAdjust="spacingAndGlyphs">68228R</text>
<text class="l" x="415.65" y="668" textLength="98.3" lengthAdjust="spacingAndGlyphs">68076B</text>
<text class="l" x="359.4" y="701.25" textLength="100.8" lengthAdjust="spacingAndGlyphs">68076C</text>
<text class="l" x="480.65" y="632.5" textLength="81.3" lengthAdjust="spacingAndGlyphs">68215</text>
<text class="l" x="527.4" y="667.5" textLength="98.3" lengthAdjust="spacingAndGlyphs">68110L</text>
<text class="l" x="527.4" y="701.25" textLength="100.05" lengthAdjust="spacingAndGlyphs">68110R</text>
<text class="l" x="633.15" y="632.5" textLength="82.05" lengthAdjust="spacingAndGlyphs">68013</text>
<text class="l" x="688.4" y="598.75" textLength="82.3" lengthAdjust="spacingAndGlyphs">68077</text>
<text class="l" x="728.65" y="775.5" textLength="98.3" lengthAdjust="spacingAndGlyphs">68252L</text>
<text class="l" x="728.65" y="810" textLength="99.8" lengthAdjust="spacingAndGlyphs">68252R</text>
<text class="l" x="225.4" y="835.5" textLength="115.3" lengthAdjust="spacingAndGlyphs">68020AL</text>
<text class="l" x="225.4" y="869" textLength="116.8" lengthAdjust="spacingAndGlyphs">68020AR</text>
<text class="l" x="359.4" y="835.5" textLength="97.8" lengthAdjust="spacingAndGlyphs">68253L</text>
<text class="l" x="359.4" y="869" textLength="99.8" lengthAdjust="spacingAndGlyphs">68253R</text>
<text class="l" x="567.4" y="822.5" textLength="82.6" lengthAdjust="spacingAndGlyphs">68057</text>
</svg>
<div id="bar"><span style="left:152.6px;transform:scaleX(0.919)">MITSUBISHI</span><span style="left:368.2px;transform:scaleX(1.0)">-</span><span style="left:389px;transform:scaleX(0.951)">MR720216</span><span style="left:620.6px;transform:scaleX(0.955)">N</span><span style="left:658.2px;transform:scaleX(0.9)">-</span><span style="left:677.2px;transform:scaleX(0.96)">68120L</span></div>
</body></html>
